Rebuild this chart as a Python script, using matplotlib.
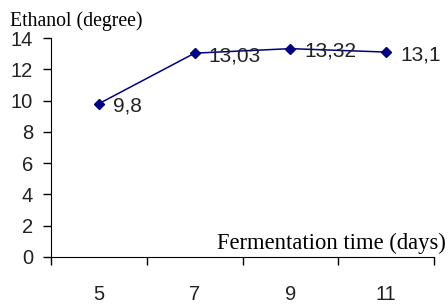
import matplotlib.pyplot as plt

days = ['5', '7', '9', '11']
ethanol = [9.8, 13.03, 13.32, 13.1]
point_labels = ['9,8', '13,03', '13,32', '13,1']

fig = plt.figure(figsize=(4.48, 3.05), dpi=100)
ax = fig.add_axes([51/448, 1-257/305, (434-51)/448, (257-38)/305])

x = list(range(len(days)))
ax.plot(x, ethanol, color='#000080', marker='D', markersize=5, linewidth=1.1)
for xi, yi, lab in zip(x, ethanol, point_labels):
    ax.annotate(lab, (xi, yi), xytext=(10, -2), textcoords='offset points',
                fontsize=15, color='#222222', family='Liberation Sans',
                ha='left', va='center')

ax.set_xlim(-0.5, 3.5)
ax.set_ylim(0, 14)
ax.set_yticks(range(0, 15, 2))
ax.set_xticks([-0.5, 0.5, 1.5, 2.5, 3.5])
ax.set_xticklabels([])
for xi, d in zip(x, days):
    ax.annotate(d, (xi, 0), xytext=(0, -27), textcoords='offset points',
                fontsize=14.5, family='Liberation Sans', color='#222222',
                ha='center', va='center')

for s in ['top', 'right']:
    ax.spines[s].set_visible(False)
ax.tick_params(axis='y', labelsize=14.5, length=6, width=1, direction='out', pad=7,
               labelcolor='#222222')
ax.tick_params(axis='x', length=6, width=1, direction='out')
for lab in ax.get_yticklabels():
    lab.set_family('Liberation Sans')

fig.text(10/448, 1-21/305, 'Ethanol (degree)', family='Liberation Serif', fontsize=14.2,
         va='center', ha='left')
fig.text(446/448, 1-243/305, 'Fermentation time (days)', family='Liberation Serif',
         fontsize=16.3, va='center', ha='right')

fig.savefig('out.png', dpi=100)
